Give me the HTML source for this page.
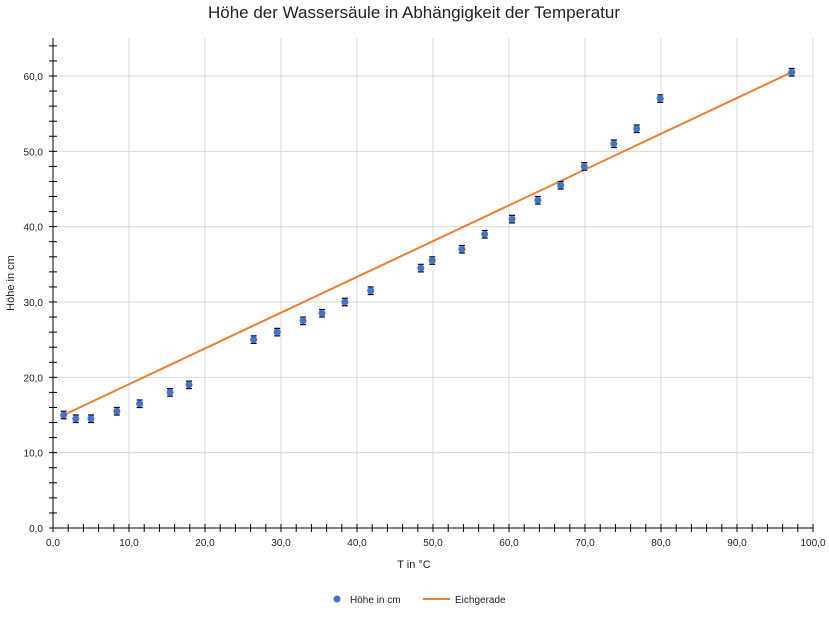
<!DOCTYPE html>
<html><head><meta charset="utf-8"><style>
body{margin:0;background:#fff;font-family:"Liberation Sans",sans-serif}
svg text{font-family:"Liberation Sans",sans-serif}
</style></head><body>
<svg id="c" width="829" height="613" viewBox="0 0 829 613">
<text x="414" y="18" text-anchor="middle" font-size="17" fill="#222">Höhe der Wassersäule in Abhängigkeit der Temperatur</text>
<g id="grid"></g><g id="axes"></g><g id="marks"></g>
<text x="414" y="568" text-anchor="middle" font-size="11" fill="#222">T in °C</text>
<text transform="translate(14,283) rotate(-90)" text-anchor="middle" font-size="11" fill="#222">Höhe in cm</text>
<g>
<circle cx="337" cy="599" r="3.5" fill="#4472c4"/>
<text x="350" y="603" font-size="10" fill="#222">Höhe in cm</text>
<line x1="423" y1="599" x2="450" y2="599" stroke="#ed7d31" stroke-width="2"/>
<text x="455" y="603" font-size="10" fill="#222">Eichgerade</text>
</g>
</svg>
<script>
const tempValues=[1.4,3.0,5.0,8.4,11.4,15.4,17.9,26.4,29.5,32.9,35.4,38.4,41.8,48.4,49.9,53.8,56.8,60.4,63.8,66.8,69.9,73.8,76.8,79.9,97.2];
const heightValues=[15,14.5,14.5,15.5,16.5,18,19,25,26,27.5,28.5,30,31.5,34.5,35.5,37,39,41,43.5,45.5,48,51,53,57,60.5];
const errorValues=0.5;
const lineX=[1.4,97.2];
const lineY=[15,60.5];
const xTicks=[0,10,20,30,40,50,60,70,80,90,100];
const yTicks=[0,10,20,30,40,50,60];
const NS="http://www.w3.org/2000/svg";
const X0=53,X1=813,Y0=528,YTOP=38;
const sx=v=>X0+(X1-X0)*v/100;
const sy=v=>Y0-(Y0-76)*v/60;
function mk(p,t,a){const e=document.createElementNS(NS,t);for(const k in a)e.setAttribute(k,a[k]);p.appendChild(e);return e;}
const g=document.getElementById('grid'),ax=document.getElementById('axes'),m=document.getElementById('marks');
xTicks.forEach(v=>{if(v>0){const l=mk(g,'line',{x1:sx(v),x2:sx(v),y1:YTOP,y2:Y0,stroke:'#d9d9d9'});

}
const t=mk(ax,'text',{x:sx(v),y:Y0+18,'text-anchor':'middle','font-size':10,fill:'#222'});t.textContent=v.toFixed(1).replace('.',',');

});
yTicks.forEach(v=>{if(v>0){const l=mk(g,'line',{x1:X0,x2:X1,y1:sy(v),y2:sy(v),stroke:'#d9d9d9'});

}
const t=mk(ax,'text',{x:X0-10,y:sy(v)+4,'text-anchor':'end','font-size':10,fill:'#222'});t.textContent=v.toFixed(1).replace('.',',');

});
for(let v=0;v<=100;v+=2)mk(ax,'line',{x1:sx(v),x2:sx(v),y1:Y0-4,y2:Y0+4,stroke:'#000'});
for(let v=0;v<=64;v+=2){const y=sy(v);if(y>=YTOP)mk(ax,'line',{x1:X0-4,x2:X0+4,y1:y,y2:y,stroke:'#000'});}
const xa=mk(ax,'line',{x1:X0,x2:X1,y1:Y0,y2:Y0,stroke:'#000'});


const ya=mk(ax,'line',{x1:X0,x2:X0,y1:YTOP,y2:Y0,stroke:'#000'});


const pl=mk(m,'polyline',{points:lineX.map((x,i)=>sx(x)+','+sy(lineY[i])).join(' '),fill:'none',stroke:'#ed7d31','stroke-width':2});


tempValues.forEach((x,i)=>{const cx=sx(x),y=heightValues[i];
const e=mk(m,'path',{d:`M${cx},${sy(y+errorValues)}V${sy(y-errorValues)}M${cx-3},${sy(y+errorValues)}h6M${cx-3},${sy(y-errorValues)}h6`,stroke:'#000','stroke-width':1.2,fill:'none'});


const c=mk(m,'circle',{cx:cx,cy:sy(y),r:3.5,fill:'#4472c4'});

});
</script>
</body></html>
